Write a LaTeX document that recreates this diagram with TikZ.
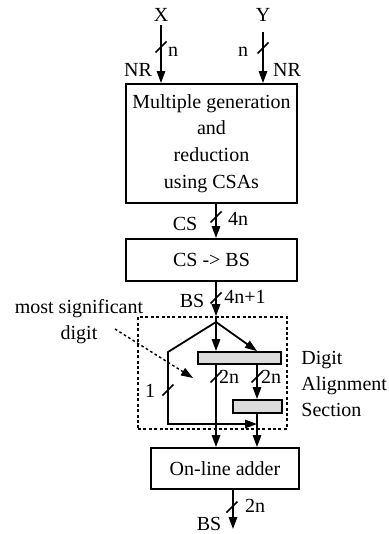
\documentclass[tikz,border=0pt]{standalone}
\usepackage{fontspec}
\setmainfont{Liberation Serif}
\usetikzlibrary{arrows.meta}

% short bus mark across a wire
\newcommand{\busslash}[2]{\draw[line width=0.8pt] (#1,#2) ++(-5.5,5.5) -- ++(11,-11);}

\begin{document}
\begin{tikzpicture}[x=0.5pt,y=-0.5pt,
  font=\fontsize{10}{13.3}\selectfont,
  blockbox/.style={draw, line width=0.9pt, align=center, inner sep=0pt},
  alignbar/.style={draw, fill=gray!28, line width=0.9pt, inner sep=0pt},
  flow/.style={line width=0.9pt, -{Triangle[length=6pt,width=4.2pt]}},
  lbl/.style={inner sep=0pt}]
\useasboundingbox (0,0) rectangle (388,534);

% column positions
\coordinate (main) at (216,0);
\coordinate (side) at (257,0);

% Blocks
\node[blockbox, minimum width=85.5pt, minimum height=59.5pt] (mult) at (211.5,143.5)
  {Multiple generation\\and\\reduction\\using CSAs};
\node[blockbox, minimum width=85.5pt, minimum height=21pt] (conv) at (211.5,260) {CS -> BS};
\node[draw, line width=0.8pt, dash pattern=on 1.5pt off 1.2pt, minimum width=74.5pt,
  minimum height=56pt, inner sep=0pt] (align) at (212.5,373) {};
\node[alignbar, minimum width=41.5pt, minimum height=6pt] (bar1) at (239.5,358) {};
\node[alignbar, minimum width=24.5pt, minimum height=6.5pt] (bar2) at (257.5,406.5) {};
\node[blockbox, minimum width=74pt, minimum height=20.5pt] (adder) at (225,468.5) {On-line adder};

% Inputs
\node[lbl] (xin) at (161,15) {X};
\node[lbl] (yin) at (263,15) {Y};
\draw[flow] ([yshift=-1.5pt]xin.south) -- (mult.north -| xin);
\draw[flow] ([yshift=-5pt]yin.south) -- (mult.north -| yin);
\busslash{161}{47}
\busslash{263}{48}
\node[lbl] at (173,52) {n};
\node[lbl] at (138,70) {NR};
\node[lbl] at (243,52) {n};
\node[lbl] at (287,70) {NR};

% CS and BS links
\draw[flow] (mult.south -| main) -- (conv.north -| main);
\busslash{216}{217}
\node[lbl] at (185,224) {CS};
\node[lbl] at (238,219) {4n};
\draw[flow] (conv.south -| main) -- (align.north -| main);
\busslash{216}{298}
\node[lbl] at (192,301) {BS};
\node[lbl] at (245,297) {4n+1};

% Digit alignment section
\coordinate (split) at (216,322);
\coordinate (bend) at (168,352);
\coordinate (msd) at (168,424);
\draw[line width=0.9pt] (align.north -| main) -- (split);
\draw[flow] (split) -- (bend) -- (msd) -- (msd -| side);
\draw[flow] (split) -- (bar1.north -| main);
\draw[flow] (split) -- (bar1.north -| side);
\draw[flow] (bar1.south -| main) -- (adder.north -| main);
\draw[flow] (bar1.south -| side) -- (bar2.north -| side);
\draw[flow] (bar2.south -| side) -- (adder.north -| side);
\busslash{216}{377}
\busslash{257}{377}
\busslash{168}{390}
\node[lbl] at (229,377) {2n};
\node[lbl] at (271,377) {2n};
\node[lbl] at (150,391) {1};
\node[lbl, anchor=west, align=left, font=\fontsize{10}{13.2}\selectfont] at (301,384)
  {Digit\\Alignment\\Section};

% Note
\node[lbl, align=center, font=\fontsize{10}{13}\selectfont] (note) at (79,322)
  {most significant\\digit};
\coordinate (msdfrom) at (115,329);
\coordinate (msdtip) at (193,378);
\draw[line width=0.7pt, dash pattern=on 1.3pt off 1.3pt,
  -{Triangle[length=6pt,width=4.2pt]}] (msdfrom) -- (msdtip);

% Output
\coordinate (out) at (233,529);
\draw[flow] (adder.south -| out) -- (out);
\busslash{232}{507}
\node[lbl] at (255,506) {2n};
\node[lbl] at (209,524) {BS};
\end{tikzpicture}
\end{document}
